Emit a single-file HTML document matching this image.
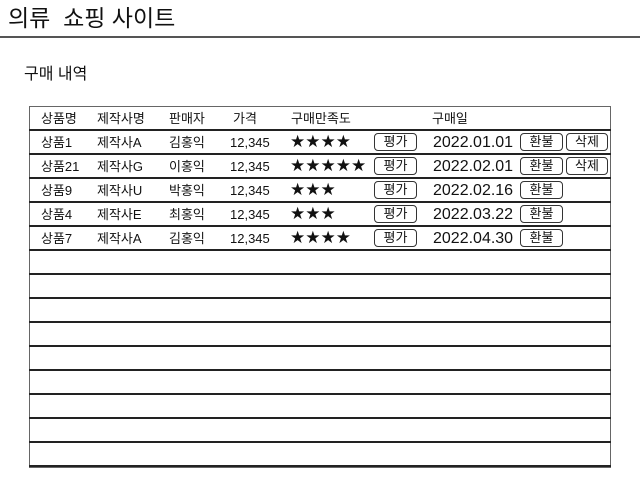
<!DOCTYPE html>
<html><head><meta charset="utf-8"><style>
body{margin:0;width:640px;height:480px;background:#fff;position:relative;overflow:hidden;font-family:"Liberation Sans","Noto Sans CJK KR",sans-serif;color:#111}
.a{position:absolute;white-space:nowrap}
.t{font-size:13px;line-height:16px}
.h{position:absolute;left:29px;width:582px;height:2px;background:#222}
.btn{position:absolute;height:16px;border:1px solid #333;border-radius:4px;font-size:13px;line-height:16px;text-align:center;background:#fff}
</style></head><body>
<div class="a" style="left:8px;top:4px;font-size:23px;line-height:28px">의류 &nbsp;쇼핑 사이트</div>
<div class="a" style="left:0;top:36px;width:640px;height:2px;background:#555"></div>
<div class="a" style="left:24px;top:65px;font-size:16px;line-height:20px">구매 내역</div>
<div class="a" style="left:29px;top:106px;width:580px;height:360px;border:1px solid #666"></div>
<div id="rows"></div>
<script>
const products=["상품1","상품21","상품9","상품4","상품7"];
const makers=["제작사A","제작사G","제작사U","제작사E","제작사A"];
const sellers=["김홍익","이홍익","박홍익","최홍익","김홍익"];
const prices=["12,345","12,345","12,345","12,345","12,345"];
const ratings=[4,5,3,3,4];
const dates=["2022.01.01","2022.02.01","2022.02.16","2022.03.22","2022.04.30"];
const deletable=[true,true,false,false,false];
const root=document.getElementById('rows');
function add(html){const d=document.createElement('div');d.innerHTML=html;const e=d.firstElementChild;root.appendChild(e);return e;}
const heads=[["상품명",41],["제작사명",97],["판매자",169],["가격",233],["구매만족도",291],["구매일",432]];
heads.forEach(([t,x])=>{const e=add(`<div class="a t" style="left:${x}px;top:111px">${t}</div>`);

});
for(let i=0;i<15;i++){const e=add(`<div class="h" style="top:${129+i*24}px"></div>`);

}
products.forEach((p,i)=>{const y=135+i*24;
const cells=[[p,41,'product-name'],[makers[i],97,'maker'],[sellers[i],169,'seller'],[prices[i],230,'price']];
cells.forEach(([t,x,n])=>{const e=add(`<div class="a t" style="left:${x}px;top:${y}px">${t}</div>`);

});
let s=add(`<div class="a" style="left:290px;top:${y-3}px;font-size:17px;line-height:20px;font-family:'DejaVu Sans',sans-serif">${'★'.repeat(ratings[i])}</div>`);


let b=add(`<div class="btn" style="left:374px;top:${y-2}px;width:41px">평가</div>`);


let d=add(`<div class="a" style="left:433px;top:${y-2}px;font-size:16px;line-height:20px">${dates[i]}</div>`);


let r=add(`<div class="btn" style="left:520px;top:${y-2}px;width:41px">환불</div>`);


if(deletable[i]){let x=add(`<div class="btn" style="left:566px;top:${y-2}px;width:40px">삭제</div>`);

}
});
</script>
</body></html>
